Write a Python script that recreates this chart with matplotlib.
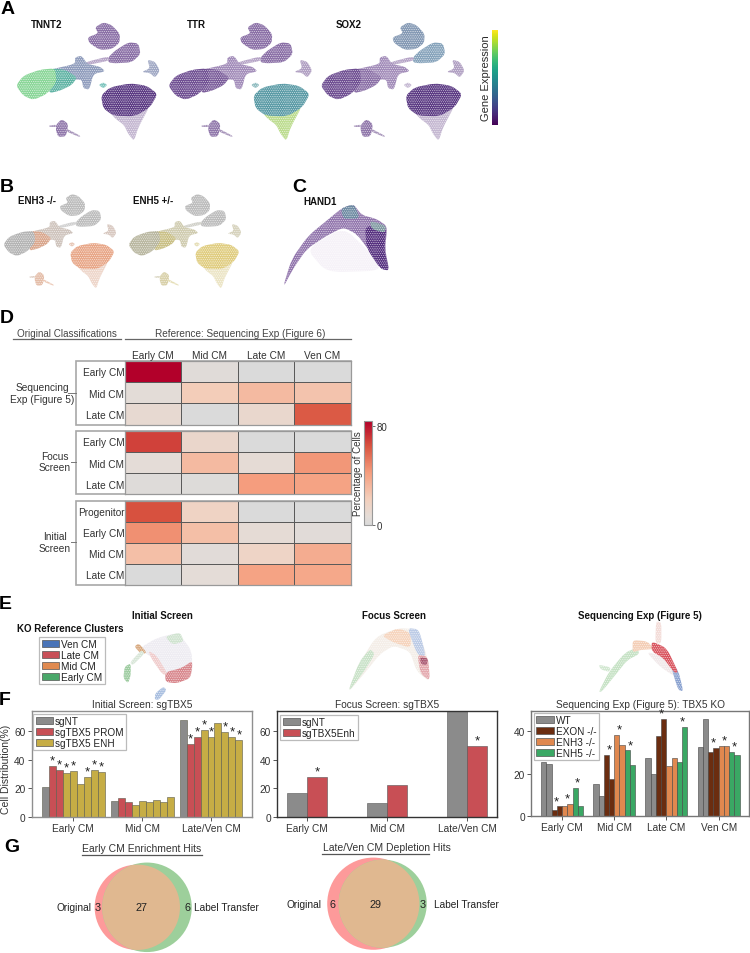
import numpy as np
import matplotlib
matplotlib.use("Agg")
import matplotlib.pyplot as plt
from matplotlib.colors import LinearSegmentedColormap, Normalize
from matplotlib.cm import ScalarMappable
from matplotlib.patches import Patch, PathPatch, Circle, Rectangle
from matplotlib.path import Path

plt.rcParams['font.family'] = ['Liberation Sans', 'DejaVu Sans']
plt.rcParams['font.size'] = 7
plt.rcParams['hatch.linewidth'] = 0.3
W, H = 750, 954
TXT = '#2a2a2a'

# ---------- Heatmap values (percentage of cells) ----------
ref_cols = ['Early CM', 'Mid CM', 'Late CM', 'Ven CM']
seq_rows = ['Early CM', 'Mid CM', 'Late CM']
seq_vals = [[84, 4, 0, 0], [6, 22, 30, 26], [10, 0, 12, 62]]
focus_rows = ['Early CM', 'Mid CM', 'Late CM']
focus_vals = [[68, 13, 0, 0], [7, 30, 8, 44], [3, 2, 42, 40]]
init_rows = ['Progenitor', 'Early CM', 'Mid CM', 'Late CM']
init_vals = [[64, 17, 0, 0], [46, 28, 8, 5], [28, 5, 16, 36], [0, 7, 40, 38]]

# ---------- Bar values ----------
groups_3 = ['Early CM', 'Mid CM', 'Late/Ven CM']
init_early = [21, 36, 33, 31, 32.5, 23, 28, 33, 31.5]
init_mid = [11, 13, 10, 8, 11, 10.5, 12, 10.5, 14]
init_late = [68, 51, 56, 61, 56, 66, 59.5, 56, 54]
init_stars = [1, 2, 3, 4, 6, 7, 8]

focus_names = ['sgNT', 'sgTBX5Enh']
focus_nt = [16.5, 9.4, 76]
focus_enh = [27.8, 22, 50]
focus_stars = [(0, 1), (2, 1)]

groups_4 = ['Early CM', 'Mid CM', 'Late CM', 'Ven CM']
seq_names = ['WT', 'EXON -/-', 'ENH3 -/-', 'ENH5 -/-']
seq_early = [25.5, 24.7, 2.8, 4.5, 4.8, 5.7, 13.2, 4.8]
seq_mid = [15, 9.5, 28.8, 17.5, 38.5, 33.8, 31, 24]
seq_late = [27.3, 19.8, 38, 45.8, 23.7, 27.3, 25.5, 42]
seq_ven = [32.5, 45.8, 30.5, 32.2, 33, 33, 30.2, 29]
seq_star_pairs = [(0, 1), (0, 2), (0, 3), (1, 1), (1, 2), (1, 3), (2, 1), (2, 3), (3, 1), (3, 2), (3, 3)]

# ---------- Venn counts ----------
venn1 = (3, 27, 6)
venn2 = (6, 29, 3)

# ---------- Cell-map outlines (region outlines, zoomed pixel units) ----------
atlas = {
    'top1': [(285, 85), (310, 70), (335, 78), (360, 105), (358, 132), (335, 150), (300, 153), (268, 132), (263, 115), (295, 103)],
    'top2': [(325, 175), (345, 155), (385, 130), (415, 133), (422, 165), (395, 190), (345, 193), (325, 190)],
    'bridge': [(255, 190), (325, 172), (328, 185), (262, 198)],
    'hub': [(150, 212), (225, 195), (225, 175), (245, 170), (262, 195), (300, 203), (316, 217), (280, 225), (268, 272), (250, 268), (245, 240), (190, 245)],
    'arm_mid': [(150, 208), (195, 212), (232, 235), (215, 258), (180, 275), (145, 283)],
    'arm_left': [(48, 260), (70, 230), (120, 212), (165, 208), (170, 250), (140, 285), (100, 303), (70, 290)],
    'side': [(442, 182), (465, 188), (480, 215), (465, 236), (450, 222), (425, 219), (450, 208)],
    'islet': [(296, 258), (310, 250), (322, 258), (310, 268)],
    'tail': [(330, 340), (410, 345), (450, 320), (415, 385), (402, 426), (385, 405), (372, 378), (345, 358)],
    'blob': [(303, 290), (330, 265), (390, 253), (440, 260), (473, 285), (450, 325), (405, 352), (340, 350), (310, 328)],
    'bottom': [(168, 378), (185, 360), (205, 375), (198, 412), (175, 414), (168, 395)],
    'streak1': [(198, 388), (242, 411), (238, 414), (196, 396)],
    'streak2': [(146, 380), (168, 377), (168, 384), (150, 384)],
}
purple = dict(top1='#8a6fa6', top2='#8a6fa6', bridge='#b5a3c6', hub='#a28cb9', arm_mid='#8a6fa6', arm_left='#6f4f92',
              side='#b09fc2', islet='#c7bbd4', blob='#5c3b84', tail='#c4b7d1', bottom='#8f76aa', streak1='#a896bb', streak2='#a896bb')
tnnt2_colors = dict(purple, arm_left='#8ad698', arm_mid='#5fb3a4', hub='#8f9cbc', islet='#7cc4bd', side='#a0a8c4')
ttr_colors = dict(purple, blob='#5b9ba6', tail='#bcdc8e', islet='#90bcc0', arm_left='#6f4f92', arm_mid='#7a5c9a')
sox2_colors = dict(purple, top1='#8499b4', top2='#86a3bb')
enh3_colors = dict(top1='#bcbcbc', top2='#bcbcbc', bridge='#cfcfcf', hub='#cfc4bd', arm_mid='#d9a68c', arm_left='#b4b4b4',
                   side='#d8c8c0', islet='#e8c8b8', blob='#e8a687', tail='#eed6ca', bottom='#e4bda8', streak1='#ecc9b6', streak2='#dccabf')
enh5_colors = dict(top1='#bcbcbc', top2='#bcbcbc', bridge='#d0d0c8', hub='#d0ccb0', arm_mid='#c9bf84', arm_left='#b9b7a0',
                   side='#d6d2bc', islet='#e6dfb8', blob='#e0cd80', tail='#ece5c6', bottom='#d8d0a8', streak1='#e6dfb8', streak2='#d6d2bc')

hand1_parts = [  # zoom crop at (260,170), drawn in this order
    ([(140, 240), (250, 175), (330, 250), (365, 305), (200, 310)], '#f6f2f8'),
    ([(68, 358), (95, 270), (145, 200), (200, 155), (245, 118), (280, 105), (305, 138), (350, 150), (382, 172), (375, 240), (388, 305), (362, 300), (328, 245), (290, 195), (250, 175), (200, 200), (140, 240), (100, 298)], '#9276ad'),
    ([(315, 170), (380, 175), (372, 240), (388, 305), (360, 298), (320, 238)], '#573280'),
    ([(243, 118), (282, 105), (300, 148), (250, 150)], '#6d8aa2'),
    ([(330, 155), (378, 170), (374, 192), (335, 180)], '#7e98a0'),
]
e_init_parts = [  # zoom crop at (0,595)
    ([(415, 165), (470, 132), (535, 116), (575, 170), (578, 240), (500, 245), (465, 195)], '#eeecf2'),
    ([(495, 235), (545, 222), (578, 200), (572, 252), (530, 268), (497, 264)], '#d8868c'),
    ([(445, 170), (470, 185), (503, 240), (488, 242), (455, 195)], '#f0cccc'),
    ([(495, 128), (540, 115), (552, 142), (518, 152)], '#cfe3cf'),
    ([(403, 158), (416, 148), (440, 175), (426, 182)], '#d7a77c'),
    ([(370, 252), (374, 218), (392, 208), (392, 245), (384, 268)], '#9ccb9f'),
    ([(466, 298), (490, 278), (500, 288), (476, 318), (464, 316)], '#a9bfe0'),
    ([(390, 205), (425, 168), (434, 178), (398, 214)], '#d8e6d8'),
]
e_focus_parts = [  # zoom crop at (270,595)
    ([(232, 298), (268, 208), (318, 128), (385, 102), (442, 106), (472, 188), (480, 264), (440, 232), (420, 172), (370, 155), (330, 180), (290, 230)], '#f4eee8'),
    ([(232, 298), (268, 203), (300, 165), (315, 180), (278, 238)], '#c9e2c8'),
    ([(335, 125), (385, 102), (422, 118), (422, 162), (370, 145)], '#f6d4bd'),
    ([(412, 102), (447, 106), (468, 188), (442, 182)], '#bccbe6'),
    ([(442, 182), (474, 188), (480, 260), (452, 240)], '#e3a6ab'),
    ([(450, 190), (474, 193), (470, 214), (453, 210)], '#a5506a'),
]
e_seq_parts = [  # zoom crop at (510,595)
    ([(408, 172), (470, 192), (495, 248), (450, 218)], '#f1e9ea'),
    ([(266, 294), (298, 232), (345, 176), (382, 160), (388, 180), (352, 198), (312, 248), (276, 292)], '#c6e2c5'),
    ([(266, 212), (302, 220), (298, 234), (272, 226)], '#d3e8d2'),
    ([(438, 82), (454, 85), (454, 148), (436, 148)], '#f3dcd8'),
    ([(368, 138), (412, 142), (432, 165), (390, 168), (368, 175)], '#f4ceb6'),
    ([(482, 205), (505, 230), (520, 292), (505, 288), (490, 242)], '#8aa2d0'),
    ([(425, 142), (470, 162), (505, 235), (493, 236), (460, 192), (425, 172)], '#d9555f'),
]
e_clusters = ['Ven CM', 'Late CM', 'Mid CM', 'Early CM']
e_cluster_colors = ['#4a74b8', '#c84f58', '#e08a50', '#4aa86a']

# ---------- Colours ----------
C_GRAY, C_RED, C_GOLD = '#8b8b8b', '#c84f55', '#c6ad45'
C_BROWN, C_ORANGE, C_GREEN = '#6b2d10', '#e0884f', '#3aa864'
heat_cmap = LinearSegmentedColormap.from_list('heat', [(0, '#dadada'), (0.08, '#e4dcd7'), (0.25, '#f3cfbc'),
                                                       (0.5, '#f59e7e'), (0.76, '#d8533f'), (1, '#b2002a')])
heat_norm = Normalize(0, 84)

fig = plt.figure(figsize=(W / 100, H / 100), dpi=100, facecolor='white')


def px_axes(l, t, r, b, **kw):
    return fig.add_axes([l / W, 1 - b / H, (r - l) / W, (b - t) / H], **kw)


ov = px_axes(0, 0, W, H)
ov.set_xlim(0, W)
ov.set_ylim(H, 0)
ov.axis('off')


def blob(pts, color, sx=1 / 3, sy=1 / 3, x0=0, y0=0, z=2):
    # rounded-corner outline of a traced region
    p = np.array(pts, float) * [sx, sy] + [x0, y0]
    prv, nxt = np.roll(p, 1, axis=0), np.roll(p, -1, axis=0)
    verts, codes = [], []
    for i, a in enumerate(p):
        s, e = a + (prv[i] - a) * 0.3, a + (nxt[i] - a) * 0.3
        verts += [s, a, e]
        codes += [Path.MOVETO if i == 0 else Path.LINETO, Path.CURVE3, Path.CURVE3]
    verts.append(verts[0])
    codes.append(Path.LINETO)
    ov.add_patch(PathPatch(Path(verts, codes), facecolor=color, edgecolor='white', hatch='.........',
                           linewidth=0, zorder=z))


def draw_atlas(colors, x0, y0, sx=1 / 3, sy=1 / 3):
    for i, (name, pts) in enumerate(atlas.items()):
        blob(pts, colors[name], sx, sy, x0, y0, z=2 + 0.01 * i)


# Panel A
for cols, dx, name, tx in [(tnnt2_colors, 0, 'TNNT2', 31), (ttr_colors, 152.3, 'TTR', 187), (sox2_colors, 304.7, 'SOX2', 336)]:
    draw_atlas(cols, dx, 0)
    ov.text(tx, 25, name, fontweight='bold', fontsize=7, va='center', color='#111')
cax = px_axes(492, 31, 497.5, 126)
cb = fig.colorbar(ScalarMappable(Normalize(0, 1), 'viridis'), cax=cax)
cb.set_ticks([])
cb.outline.set_visible(False)
ov.text(486, 78, 'Gene Expression', rotation=90, fontsize=8, ha='center', va='center', color=TXT)

# Panel B
bsx, bsy = 0.787 / 3, 0.8 / 3
bx0, by0 = 3.3 - 48 * bsx, 195 - 70 * bsy
draw_atlas(enh3_colors, bx0, by0, bsx, bsy)
draw_atlas(enh5_colors, bx0 + 125, by0, bsx, bsy)
ov.text(18, 201, 'ENH3 -/-', fontweight='bold', va='center', color='#111')
ov.text(133, 201, 'ENH5 +/-', fontweight='bold', va='center', color='#111')

# Panel C
for i, (pts, c) in enumerate(hand1_parts):
    blob(pts, c, x0=260, y0=170, z=2 + 0.01 * i)
ov.text(303, 202, 'HAND1', fontweight='bold', va='center', color='#111')

# Panel letters
for s, x, y in [('A', 8, 9), ('B', 7, 187), ('C', 299, 187), ('D', 7, 319), ('E', 5, 605), ('F', 5, 701), ('G', 12, 848)]:
    ov.text(x, y, s, fontsize=14, fontweight='bold', ha='center', va='center', color='black')

# Panel D
ov.text(66.5, 334.5, 'Original Classifications', ha='center', va='center', fontsize=7.1, color='#444')
ov.text(240, 334.5, 'Reference: Sequencing Exp (Figure 6)', ha='center', va='center', fontsize=7.2, color='#444')
ov.plot([12.7, 120.7], [340, 340], color='#666', lw=0.9)
ov.plot([125, 350.5], [340, 340], color='#666', lw=0.9)


def heat(vals, rows, top, bottom, show_cols=False):
    ax = px_axes(125, top, 350.5, bottom)
    ax.pcolormesh(np.array(vals, float), cmap=heat_cmap, norm=heat_norm, edgecolors='#5a5a5a', linewidth=0.6)
    ax.set_ylim(len(rows), 0)
    ax.set_xlim(0, 4)
    ax.set_yticks(np.arange(len(rows)) + 0.5, rows, fontsize=7.3, color='#333')
    ax.tick_params(axis='y', length=0, pad=0.5)
    if show_cols:
        ax.xaxis.tick_top()
        ax.set_xticks(np.arange(4) + 0.5, ref_cols, fontsize=7.3, color='#333')
        ax.tick_params(axis='x', length=0, pad=0.5)
    else:
        ax.set_xticks([])
    for s in ax.spines.values():
        s.set_color('#999')
        s.set_linewidth(0.9)
    ov.add_patch(Rectangle((76, top), 274.5, bottom - top, facecolor='white', edgecolor='#a8a8a8', lw=1.2, zorder=2))
    return ax


heat(seq_vals, seq_rows, 361.7, 425.7, True)
heat(focus_vals, focus_rows, 431.7, 495.3)
heat(init_vals, init_rows, 501.7, 586)
for s, cx, cy, x1 in [('Sequencing\nExp (Figure 5)', 42, 394, 68), ('Focus\nScreen', 55, 462.5, 71), ('Initial\nScreen', 55, 543, 71)]:
    ov.text(cx, cy, s, ha='center', va='center', fontsize=7.3, color='#333', linespacing=1.15)
    ov.plot([x1, 76], [cy, cy], color='#777', lw=0.7)
cax = px_axes(364, 421.7, 372, 526)
cb = fig.colorbar(ScalarMappable(heat_norm, heat_cmap), cax=cax)
cb.set_ticks([0, 80])
cb.ax.tick_params(length=2.5, width=0.6, pad=1, labelsize=7, labelcolor='#333', color='#555')
cb.set_label('Percentage of Cells', fontsize=7, color='#333', labelpad=1)
cb.ax.yaxis.set_label_position('left')
cb.outline.set_edgecolor('#999')
cb.outline.set_linewidth(0.8)

# Panel E
for parts, x0, y0 in [(e_init_parts, 0, 595), (e_focus_parts, 270, 595), (e_seq_parts, 510, 595)]:
    for i, (pts, c) in enumerate(parts):
        blob(pts, c, x0=x0, y0=y0, z=2 + 0.01 * i)
ov.text(162, 615.7, 'Initial Screen', fontweight='bold', ha='center', va='center', color='#111')
ov.text(394, 615.7, 'Focus Screen', fontweight='bold', ha='center', va='center', color='#111')
ov.text(640, 615.7, 'Sequencing Exp (Figure 5)', fontweight='bold', ha='center', va='center', color='#111')
ov.text(16.7, 628.7, 'KO Reference Clusters', fontweight='bold', va='center', color='#111')


def legend(ax, handles, labels, x, y, fs=7.2, spacing=0.09):
    lg = ax.legend(handles, labels, loc='upper left', bbox_to_anchor=(x, y), bbox_transform=ov.transData,
                   fontsize=fs, frameon=True, fancybox=False, framealpha=1, edgecolor='#bbb',
                   handlelength=1.75, handleheight=0.72, handletextpad=0.2, labelspacing=spacing,
                   borderpad=0.25, borderaxespad=0)
    lg.get_frame().set_linewidth(0.9)
    for t in lg.get_texts():
        t.set_color('#222')
    for h in lg.legend_handles:
        h.set_edgecolor('#555')
        h.set_linewidth(0.5)
    return lg


legend(ov, [Patch(facecolor=c) for c in e_cluster_colors], e_clusters, 39, 637.7)


# Panel F
def style_bar(ax, spine, title, names, yticks):
    ax.set_yticks(yticks)
    ax.tick_params(axis='both', length=3, width=0.7, color='#555', labelsize=7.3, labelcolor='#333', pad=1.5)
    for s in ax.spines.values():
        s.set_color(spine)
        s.set_linewidth(1.0)
    ax.set_title(title, fontsize=7.3, color='#333', pad=3)
    ax.set_xticks(range(len(names)), names)


def star(ax, x, y):
    ax.annotate('*', (x, y), xytext=(0, -0.5), textcoords='offset points', ha='center', va='bottom',
                fontsize=9.5, color='#222', annotation_clip=False)


# Initial screen
ax = px_axes(31.7, 711.7, 252.3, 817.7)
ax.set_xlim(-0.605, 2.6)
ax.set_ylim(0, 74.6)
w = 0.1014
init_colors = [C_GRAY, C_RED, C_RED] + [C_GOLD] * 6
for g, vals in enumerate([init_early, init_mid, init_late]):
    xs = g + (np.arange(9) - 4) * w
    ax.bar(xs, vals, w, color=init_colors, edgecolor='#5a5a4a', linewidth=0.4)
    if g != 1:
        for i in init_stars:
            star(ax, xs[i], vals[i])
style_bar(ax, '#8f8f8f', 'Initial Screen: sgTBX5', groups_3, [0, 20, 40, 60])
legend(ax, [Patch(facecolor=c) for c in (C_GRAY, C_RED, C_GOLD)], ['sgNT', 'sgTBX5 PROM', 'sgTBX5 ENH'], 33, 714.5)
ov.text(6, 769, 'Cell Distribution(%)', rotation=90, ha='center', va='center', fontsize=7.5, color='#333')

# Focus screen
ax = px_axes(277.3, 711.7, 497.3, 817.7)
ax.set_xlim(-0.375, 2.375)
ax.set_ylim(0, 74.6)
w = 0.252
x = np.arange(3)
ax.bar(x - w / 2, focus_nt, w, color=C_GRAY, edgecolor='#555', linewidth=0.4)
ax.bar(x + w / 2, focus_enh, w, color=C_RED, edgecolor='#555', linewidth=0.4)
for g, s in focus_stars:
    star(ax, g + w / 2, focus_enh[g])
style_bar(ax, '#333333', 'Focus Screen: sgTBX5', groups_3, [0, 20, 40, 60])
legend(ax, [Patch(facecolor=c) for c in (C_GRAY, C_RED)], focus_names, 280, 715.5)

# Sequencing experiment
ax = px_axes(531, 711.7, 749.3, 817)
ax.set_xlim(-0.594, 3.586)
ax.set_ylim(0, 49.8)
w = 0.1005
seq_colors = [C_GRAY, C_GRAY, C_BROWN, C_BROWN, C_ORANGE, C_ORANGE, C_GREEN, C_GREEN]
seq_all = [seq_early, seq_mid, seq_late, seq_ven]
for g, vals in enumerate(seq_all):
    xs = g + (np.arange(8) - 3.5) * w
    ax.bar(xs, vals, w, color=seq_colors, edgecolor='#444', linewidth=0.4)
for g, p in seq_star_pairs:
    xs = g + (np.arange(8) - 3.5) * w
    star(ax, (xs[2 * p] + xs[2 * p + 1]) / 2, max(seq_all[g][2 * p], seq_all[g][2 * p + 1]))
style_bar(ax, '#777777', 'Sequencing Exp (Figure 5): TBX5 KO', groups_4, [0, 20, 40])
legend(ax, [Patch(facecolor=c) for c in (C_GRAY, C_BROWN, C_ORANGE, C_GREEN)], seq_names, 533.5, 713.5)


# Panel G
def venn(counts, cx1, cx2, cy, c1_lab, c2_lab, ln_x, rn_x, mid_x, lab_l, lab_r):
    k = 128 / 3 / np.sqrt(30)
    r1, r2 = k * np.sqrt(counts[0] + counts[1]), k * np.sqrt(counts[1] + counts[2])
    ov.add_patch(Circle((cx1, cy), r1, facecolor='#fd9a9a', edgecolor='none', zorder=2))
    ov.add_patch(Circle((cx2, cy), r2, facecolor='#9dcf9b', edgecolor='none', zorder=2))
    over = Circle((cx2, cy), r2, facecolor='#e0b890', edgecolor='none', zorder=3)
    ov.add_patch(over)
    over.set_clip_path(Circle((cx1, cy), r1, transform=ov.transData))
    ov.text(ln_x, cy, str(counts[0]), ha='center', va='center', fontsize=7.8, color='#222', zorder=4)
    ov.text(mid_x, cy, str(counts[1]), ha='center', va='center', fontsize=7.8, color='#222', zorder=4)
    ov.text(rn_x, cy, str(counts[2]), ha='center', va='center', fontsize=7.8, color='#222', zorder=4)
    ov.text(lab_l, cy, c1_lab, ha='right', va='center', fontsize=7.3, color='#222')
    ov.text(lab_r, cy, c2_lab, ha='left', va='center', fontsize=7.3, color='#222')


venn(venn1, 137.3, 147, 908.3, 'Original', 'Label Transfer', 97.5, 187.5, 141.5, 91.5, 194.5)
venn(venn2, 373.3, 382.7, 904.7, 'Original', 'Label Transfer', 332, 423, 375.5, 321.5, 434.5)
ov.text(142, 849, 'Early CM Enrichment Hits', ha='center', va='center', fontsize=7.5, color='#333')
ov.text(386.5, 848, 'Late/Ven CM Depletion Hits', ha='center', va='center', fontsize=7.5, color='#333')
ov.plot([82, 201.7], [856, 856], color='#555', lw=0.9)
ov.plot([322, 429], [855, 855], color='#555', lw=0.9)

fig.savefig('out.png', dpi=100)
